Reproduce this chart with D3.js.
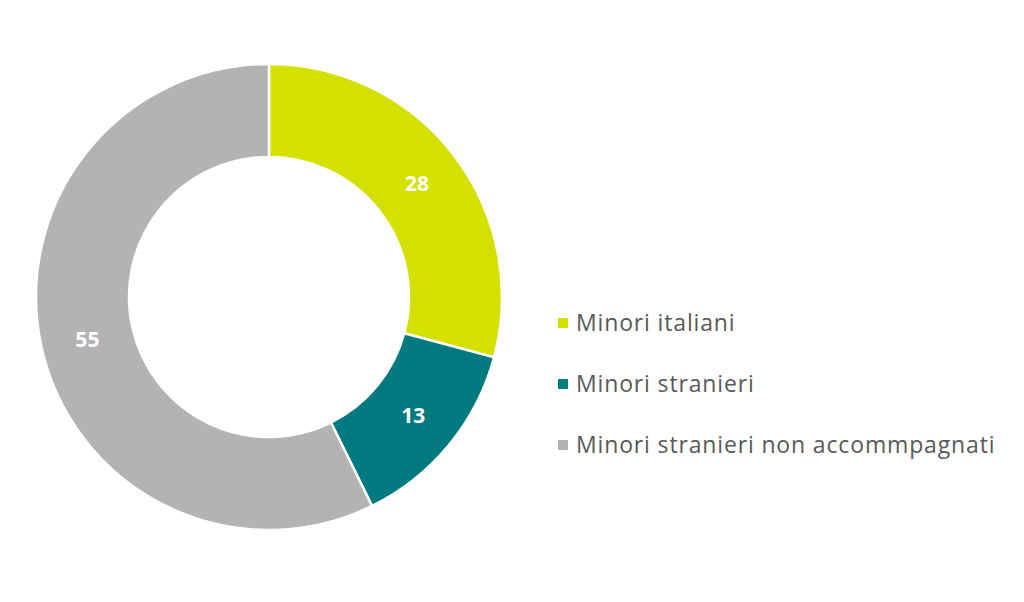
<!DOCTYPE html>
<html>
<head>
<meta charset="utf-8">
<script src="https://cdn.jsdelivr.net/npm/d3@7"></script>
<style>
  body { margin: 0; background: #fff; }
  svg { display: block; }
</style>
</head>
<body>
<script>
// Chart data
const categories = ['Minori italiani', 'Minori stranieri', 'Minori stranieri non accommpagnati'];
const values = [28, 13, 55];
const colors = ['#d4e000', '#007a7e', '#b3b3b3'];

const width = 1024, height = 602;
const center = {x: 269, y: 297};
const outerR = 233, innerR = 140;

const svg = d3.select('body')
      .append('svg')
      .attr('width', width)
      .attr('height', height);

const pie = d3.pie().sort(null).value(d => d.value);
const arc = d3.arc().innerRadius(innerR).outerRadius(outerR);

const data = categories.map((c, i) => ({name: c, value: values[i], color: colors[i]}));
const arcs = pie(data);

// Donut slices
const g = svg.append('g')
      .attr('transform', `translate(${center.x}, ${center.y})`);

g.selectAll('path')
  .data(arcs)
  .enter()
  .append('path')
  .attr('d', arc)
  .attr('fill', d => d.data.color)
  .attr('stroke', '#fff')
  .attr('stroke-width', 2.5);

// Value labels
g.selectAll('text')
  .data(arcs)
  .enter()
  .append('text')
  .attr('transform', d => `translate(${arc.centroid(d)})`)
  .attr('text-anchor', 'middle')
  .attr('dy', '0.36em')
  .attr('fill', '#fff')
  .attr('font-family', 'Open Sans, sans-serif')
  .attr('font-weight', 'bold')
  .attr('font-size', 21)
  .text(d => d.data.value);

// Legend
const legend = svg.append('g')
      .attr('transform', 'translate(558, 323)');

const item = legend.selectAll('g')
      .data(data)
      .enter()
      .append('g')
      .attr('transform', (d, i) => `translate(0, ${i * 61})`);

item.append('rect')
  .attr('x', 0)
  .attr('y', -5)
  .attr('width', 10)
  .attr('height', 10)
  .attr('fill', d => d.color);

item.append('text')
  .attr('x', 18)
  .attr('dy', '0.35em')
  .attr('fill', '#595959')
  .attr('font-family', 'Open Sans, sans-serif')
  .attr('font-size', 23)
  .attr('letter-spacing', 0.85)
  .text(d => d.name);
</script>
</body>
</html>
